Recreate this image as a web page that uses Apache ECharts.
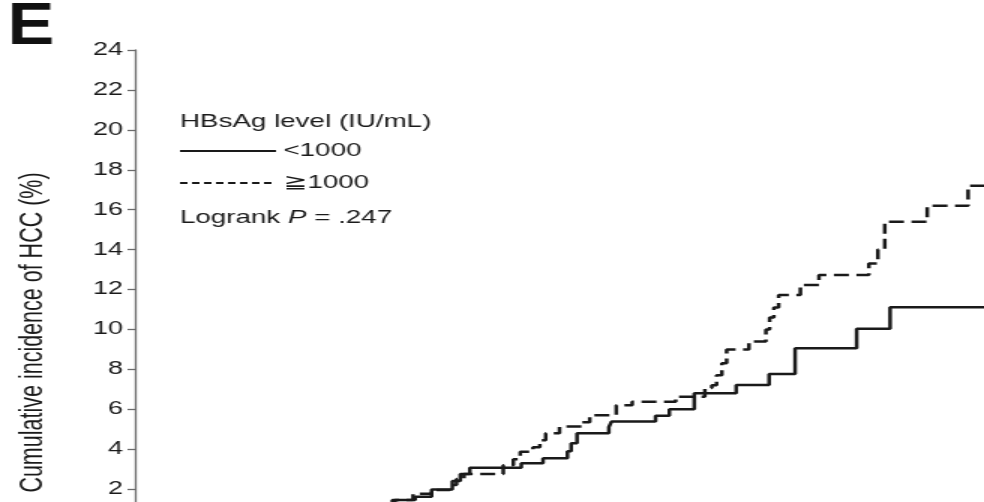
<!DOCTYPE html>
<html>
<head>
<meta charset="utf-8">
<script src="https://cdn.jsdelivr.net/npm/echarts@6/dist/echarts.min.js"></script>
<style>
  html, body { margin: 0; padding: 0; background: #fff; width: 984px; height: 502px; overflow: hidden; }
  /* the figure is laid out 656px wide and stretched 1.5x horizontally;
     its lower edge (the time axis) runs past the bottom of the page */
  #chart { width: 656px; height: 560px; transform: scaleX(1.5); transform-origin: 0 0; }
</style>
</head>
<body>
<div id="chart"></div>
<script>
// Follow-up time (years) at which each cumulative-incidence step occurs
const lowTimes = [0, 0.8, 1.6, 2.3, 2.9, 3.4, 3.9, 4.4, 4.85, 5.28, 5.59, 5.98, 6.13, 6.31, 7.28, 7.69,
  8.15, 8.22, 8.33, 8.93, 8.98, 9.81, 10.07, 10.54, 11.33, 11.95, 12.44, 13.6, 14.23, 16];
// Cumulative incidence of HCC (%), HBsAg < 1000 IU/mL
const lowValues = [0, 0.1, 0.25, 0.4, 0.55, 0.75, 0.95, 1.15, 1.45, 1.62, 1.98, 2.4, 2.75, 3.07, 3.29, 3.54,
  3.9, 4.3, 4.8, 5.1, 5.38, 5.68, 6.0, 6.8, 7.22, 7.77, 9.06, 10.03, 11.11, 11.11];

const highTimes = [0, 0.7, 1.4, 2.1, 2.7, 3.3, 3.8, 4.3, 4.9, 5.24, 5.59, 5.93, 6.06, 6.2, 6.94, 7.13,
  7.26, 7.5, 7.63, 7.74, 8.0, 8.43, 8.57, 9.07, 9.37, 10.19, 10.74, 10.87, 10.96, 11.06, 11.15, 11.57,
  11.89, 11.96, 12.04, 12.13, 12.54, 12.89, 13.83, 14.0, 14.13, 14.93, 15.7, 16];
// Cumulative incidence of HCC (%), HBsAg >= 1000 IU/mL
const highValues = [0, 0.12, 0.3, 0.45, 0.6, 0.8, 1.0, 1.2, 1.45, 1.76, 1.95, 2.2, 2.5, 2.75, 3.2, 3.5,
  3.87, 4.1, 4.45, 4.8, 5.13, 5.35, 5.7, 6.2, 6.38, 6.63, 7.07, 7.2, 7.7, 8.3, 9.0, 9.39,
  10.0, 10.6, 11.1, 11.73, 12.23, 12.73, 13.3, 14.0, 15.4, 16.2, 17.2, 17.2];

const groupNames = ['<1000', '≧1000'];
const yTickValues = [0, 2, 4, 6, 8, 10, 12, 14, 16, 18, 20, 22, 24];
const timeRange = [0, 16];

const FONT = "'Liberation Sans', Arial, Helvetica, sans-serif";
const INK = '#1a1a1a';

const pairs = (xs, ys) => xs.map((x, i) => [x, ys[i]]);

// legend keys: a plain stroke and a row of dashes
const solidKey = 'path://M0,0H64V2.2H0Z';
const dashedKey = 'path://M0,0H5V2.2H0Z M8,0H13V2.2H8Z M16,0H21V2.2H16Z M24,0H29V2.2H24Z M32,0H37V2.2H32Z ' +
  'M40,0H45V2.2H40Z M48,0H53V2.2H48Z M56,0H61V2.2H56Z M64,0H64V2.2H64Z';

const chart = echarts.init(document.getElementById('chart'));
chart.setOption({
  animation: false,
  backgroundColor: '#fff',
  grid: { left: 90, width: 576, top: 50, height: 479, containLabel: false },
  xAxis: {
    type: 'value',
    min: timeRange[0],
    max: timeRange[1],
    show: false
  },
  yAxis: {
    type: 'value',
    min: yTickValues[0],
    max: yTickValues[yTickValues.length - 1],
    interval: yTickValues[1] - yTickValues[0],
    name: 'Cumulative incidence of HCC (%)',
    nameLocation: 'middle',
    nameGap: 57,
    nameTextStyle: { fontFamily: FONT, fontSize: 21.5, color: INK, padding: [0, 86, 0, 0] },
    axisLine: { show: true, lineStyle: { color: '#6b6b6b', width: 1.3 } },
    axisTick: { show: true, length: 5, lineStyle: { color: '#6b6b6b', width: 1.3 } },
    axisLabel: { fontFamily: FONT, fontSize: 18, color: INK, margin: 8, showMinLabel: false },
    splitLine: { show: false }
  },
  legend: {
    orient: 'vertical',
    left: 120,
    top: 141.5,
    padding: 0,
    itemWidth: 64,
    itemHeight: 2.2,
    itemGap: 13,
    selectedMode: false,
    textStyle: { fontFamily: FONT, fontSize: 18.5, color: INK },
    data: [
      { name: groupNames[0], icon: solidKey, itemStyle: { color: INK } },
      { name: groupNames[1], icon: dashedKey, itemStyle: { color: INK } }
    ]
  },
  graphic: [
    {
      type: 'text', x: 5, y: -3, scaleX: 0.78,
      style: { text: 'E', fontFamily: FONT, fontSize: 60, fontWeight: 'bold', fill: '#111', verticalAlign: 'top' }
    },
    {
      type: 'text', x: 120, y: 121.5,
      style: { text: 'HBsAg level (IU/mL)', fontFamily: FONT, fontSize: 18.5, fill: INK, verticalAlign: 'middle' }
    },
    {
      type: 'text', x: 120, y: 217.5,
      style: {
        text: '{n|Logrank }{i|P}{n| = .247}',
        verticalAlign: 'middle',
        rich: {
          n: { fontFamily: FONT, fontSize: 18.5, fill: INK, color: INK },
          i: { fontFamily: FONT, fontSize: 18.5, fontStyle: 'italic', fill: INK, color: INK }
        }
      }
    }
  ],
  series: [
    {
      name: groupNames[0],
      type: 'line',
      step: 'end',
      symbol: 'none',
      showSymbol: false,
      data: pairs(lowTimes, lowValues),
      lineStyle: { color: INK, width: 2.5, type: 'solid' },
      itemStyle: { color: INK }
    },
    {
      name: groupNames[1],
      type: 'line',
      step: 'end',
      symbol: 'none',
      showSymbol: false,
      data: pairs(highTimes, highValues),
      lineStyle: { color: INK, width: 2.5, type: [10, 5] },
      itemStyle: { color: INK }
    }
  ]
});
</script>
</body>
</html>
